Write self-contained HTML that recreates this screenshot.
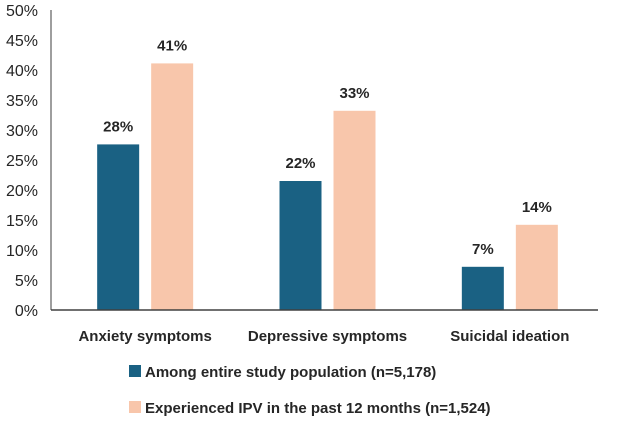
<!DOCTYPE html>
<html><head><meta charset="utf-8"><style>
body{margin:0;background:#fff;}
svg text{font-family:"Liberation Sans",sans-serif;fill:#262626;}
</style></head><body>
<svg id="c" width="620" height="426" xmlns="http://www.w3.org/2000/svg"></svg>
<script>
const categories=["Anxiety symptoms","Depressive symptoms","Suicidal ideation"];
const seriesA=[27.6,21.5,7.2];
const seriesB=[41.1,33.2,14.2];
const labelsA=["28%","22%","7%"];
const labelsB=["41%","33%","14%"];
const yTicks=[0,5,10,15,20,25,30,35,40,45,50];
const legendNames=["Among entire study population (n=5,178)","Experienced IPV in the past 12 months (n=1,524)"];
const colors=["#1a6183","#f8c6ab"];
const svg=document.getElementById('c');
const NS="http://www.w3.org/2000/svg";
const x0=51,x1=598,y0=310,yTop=10;
const y=v=>y0-(v/50)*(y0-yTop);
const gw=(x1-x0)/categories.length;
const gc=i=>x0+gw*(i+0.5)+3;
function mk(t,a,txt){const e=document.createElementNS(NS,t);for(const k in a)e.setAttribute(k,a[k]);if(txt!==undefined)e.textContent=txt;svg.appendChild(e);return e;}
yTicks.forEach(t=>{
const e=mk('text',{x:38,y:y(t)+6,'text-anchor':'end','font-size':16},t+'%');


});
const ya=mk('line',{x1:x0,y1:yTop,x2:x0,y2:y0,stroke:'#7f7f7f','stroke-width':1.5});


[seriesA,seriesB].forEach((s,si)=>{
const labs=si?labelsB:labelsA;
s.forEach((v,i)=>{
const bx=gc(i)+(si?6:-48);
const r=mk('rect',{x:bx,y:y(v),width:42,height:y0-y(v),fill:colors[si]});


const t=mk('text',{x:bx+21,y:y(v)-13,'text-anchor':'middle','font-size':15,'font-weight':'bold'},labs[i]);


});
});
const xa=mk('line',{x1:x0,y1:y0,x2:x1,y2:y0,stroke:'#404040','stroke-width':1.5});


categories.forEach((c,i)=>{
const t=mk('text',{x:gc(i),y:341,'text-anchor':'middle','font-size':15,'font-weight':'bold'},c);


});
legendNames.forEach((n,i)=>{
const r=mk('rect',{x:129,y:365+i*36,width:12,height:12,fill:colors[i]});


const t=mk('text',{x:145,y:377+i*36,'font-size':15,'font-weight':'bold'},n);


});
</script>
</body></html>
